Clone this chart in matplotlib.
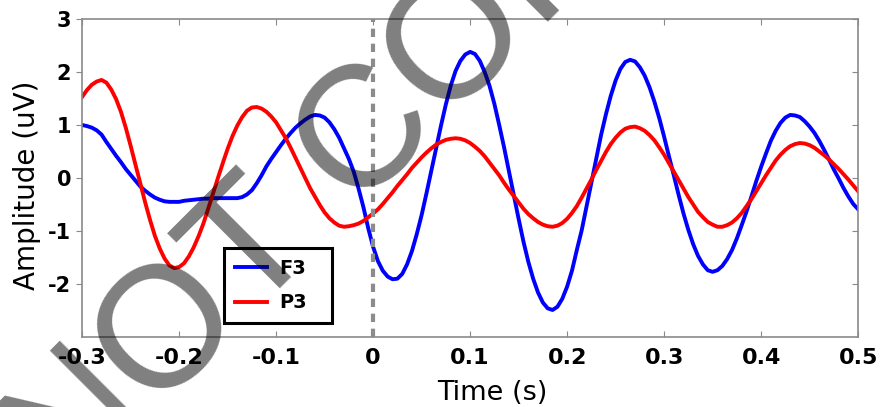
import matplotlib
matplotlib.use("Agg")
import matplotlib.pyplot as plt
from matplotlib.lines import TICKLEFT

# time axis (s), 5 ms steps
time = [-0.300, -0.295, -0.290, -0.285, -0.280, -0.275, -0.270, -0.265, -0.260, -0.255,
        -0.250, -0.245, -0.240, -0.235, -0.230, -0.225, -0.220, -0.215, -0.210, -0.205,
        -0.200, -0.195, -0.190, -0.185, -0.180, -0.175, -0.170, -0.165, -0.160, -0.155,
        -0.150, -0.145, -0.140, -0.135, -0.130, -0.125, -0.120, -0.115, -0.110, -0.105,
        -0.100, -0.095, -0.090, -0.085, -0.080, -0.075, -0.070, -0.065, -0.060, -0.055,
        -0.050, -0.045, -0.040, -0.035, -0.030, -0.025, -0.020, -0.015, -0.010, -0.005,
        0.000, 0.005, 0.010, 0.015, 0.020, 0.025, 0.030, 0.035, 0.040, 0.045,
        0.050, 0.055, 0.060, 0.065, 0.070, 0.075, 0.080, 0.085, 0.090, 0.095,
        0.100, 0.105, 0.110, 0.115, 0.120, 0.125, 0.130, 0.135, 0.140, 0.145,
        0.150, 0.155, 0.160, 0.165, 0.170, 0.175, 0.180, 0.185, 0.190, 0.195,
        0.200, 0.205, 0.210, 0.215, 0.220, 0.225, 0.230, 0.235, 0.240, 0.245,
        0.250, 0.255, 0.260, 0.265, 0.270, 0.275, 0.280, 0.285, 0.290, 0.295,
        0.300, 0.305, 0.310, 0.315, 0.320, 0.325, 0.330, 0.335, 0.340, 0.345,
        0.350, 0.355, 0.360, 0.365, 0.370, 0.375, 0.380, 0.385, 0.390, 0.395,
        0.400, 0.405, 0.410, 0.415, 0.420, 0.425, 0.430, 0.435, 0.440, 0.445,
        0.450, 0.455, 0.460, 0.465, 0.470, 0.475, 0.480, 0.485, 0.490, 0.495,
        0.500]

# F3 amplitude (uV)
f3 = [1.00, 0.98, 0.95, 0.90, 0.82, 0.68, 0.55, 0.42, 0.30, 0.17,
      0.06, -0.05, -0.16, -0.24, -0.31, -0.37, -0.41, -0.44, -0.45, -0.45,
      -0.45, -0.43, -0.42, -0.41, -0.40, -0.39, -0.39, -0.38, -0.38, -0.38,
      -0.38, -0.38, -0.38, -0.36, -0.31, -0.23, -0.10, 0.05, 0.22, 0.36,
      0.49, 0.62, 0.74, 0.85, 0.95, 1.03, 1.10, 1.16, 1.19, 1.18,
      1.14, 1.05, 0.92, 0.76, 0.56, 0.36, 0.12, -0.20, -0.55, -0.95,
      -1.30, -1.57, -1.75, -1.86, -1.91, -1.90, -1.81, -1.63, -1.38, -1.06,
      -0.70, -0.29, 0.14, 0.57, 0.99, 1.39, 1.74, 2.02, 2.21, 2.33,
      2.38, 2.34, 2.21, 2.00, 1.74, 1.40, 1.00, 0.58, 0.13, -0.33,
      -0.77, -1.20, -1.58, -1.90, -2.16, -2.35, -2.46, -2.49, -2.43, -2.28,
      -2.05, -1.75, -1.36, -0.99, -0.54, -0.09, 0.37, 0.81, 1.20, 1.55,
      1.84, 2.06, 2.19, 2.23, 2.20, 2.09, 1.93, 1.71, 1.44, 1.13,
      0.78, 0.41, 0.05, -0.32, -0.67, -0.98, -1.25, -1.47, -1.63, -1.74,
      -1.77, -1.74, -1.66, -1.53, -1.36, -1.14, -0.89, -0.63, -0.35, -0.06,
      0.21, 0.46, 0.70, 0.89, 1.04, 1.14, 1.19, 1.18, 1.15, 1.07,
      0.97, 0.85, 0.70, 0.53, 0.35, 0.16, -0.01, -0.19, -0.35, -0.49,
      -0.59]

# P3 amplitude (uV)
p3 = [1.53, 1.66, 1.76, 1.82, 1.85, 1.80, 1.67, 1.49, 1.25, 0.95,
      0.61, 0.25, -0.10, -0.46, -0.79, -1.09, -1.33, -1.52, -1.65, -1.70,
      -1.68, -1.61, -1.48, -1.31, -1.10, -0.86, -0.58, -0.29, 0.00, 0.28,
      0.55, 0.79, 0.99, 1.15, 1.27, 1.33, 1.34, 1.31, 1.25, 1.16,
      1.05, 0.90, 0.75, 0.57, 0.38, 0.19, 0.00, -0.19, -0.35, -0.51,
      -0.65, -0.76, -0.84, -0.90, -0.92, -0.91, -0.89, -0.86, -0.81, -0.74,
      -0.67, -0.59, -0.49, -0.38, -0.27, -0.15, -0.04, 0.07, 0.19, 0.29,
      0.39, 0.48, 0.56, 0.63, 0.68, 0.72, 0.74, 0.75, 0.74, 0.71,
      0.66, 0.59, 0.51, 0.41, 0.29, 0.17, 0.05, -0.09, -0.22, -0.34,
      -0.46, -0.58, -0.68, -0.76, -0.83, -0.88, -0.91, -0.92, -0.90, -0.85,
      -0.77, -0.66, -0.53, -0.37, -0.20, -0.03, 0.15, 0.32, 0.49, 0.64,
      0.76, 0.86, 0.93, 0.96, 0.97, 0.94, 0.89, 0.81, 0.71, 0.58,
      0.44, 0.28, 0.12, -0.04, -0.20, -0.36, -0.50, -0.64, -0.74, -0.83,
      -0.88, -0.92, -0.92, -0.89, -0.84, -0.76, -0.66, -0.53, -0.40, -0.25,
      -0.10, 0.05, 0.19, 0.33, 0.44, 0.53, 0.60, 0.64, 0.66, 0.65,
      0.62, 0.57, 0.50, 0.43, 0.35, 0.26, 0.17, 0.07, -0.03, -0.14,
      -0.25]

xticks = [-0.3, -0.2, -0.1, 0, 0.1, 0.2, 0.3, 0.4, 0.5]
xtick_labels = ['-0.3', '-0.2', '-0.1', '0', '0.1', '0.2', '0.3', '0.4', '0.5']
yticks = [-2, -1, 0, 1, 2, 3]

fig = plt.figure(figsize=(8.83, 4.07), dpi=100)
ax = fig.add_axes([0.093, 0.172, 0.8788, 0.7813])

ax.plot(time, f3, color='#0000ff', lw=2.8, label='F3')
ax.plot(time, p3, color='#ff0000', lw=2.8, label='P3')
ax.axvline(0, color='#8c8c8c', lw=3, linestyle=(0, (2.0, 1.6)), zorder=3)

ax.set_xlim(-0.3, 0.5)
ax.set_ylim(-3, 3)
ax.set_xticks(xticks)
ax.set_xticklabels(xtick_labels, fontweight='bold', fontsize=16)
ax.set_yticks(yticks)
ax.set_yticklabels([str(v) for v in yticks], fontweight='bold', fontsize=15)

for s in ax.spines.values():
    s.set_color('#8a8a8a')
    s.set_linewidth(1.2)
ax.tick_params(axis='x', direction='in', top=True, length=4, color='#8a8a8a', pad=8)
ax.tick_params(axis='y', direction='out', left=True, right=True, length=4,
               color='#8a8a8a', pad=4)
# right-hand ticks point into the plot
for t in ax.yaxis.get_major_ticks():
    t.tick2line.set_marker(TICKLEFT)

ax.set_xlabel('Time (s)', fontsize=19.5)
ax.xaxis.set_label_coords(0.528, -0.135)
ax.set_ylabel('Amplitude (uV)', fontsize=20)
ax.yaxis.set_label_coords(-0.053, 0.478)

leg = ax.legend(loc='lower left', bbox_to_anchor=(0.183, 0.044, 0.139, 0.239),
                mode='expand', borderaxespad=0, fancybox=False,
                edgecolor='black', framealpha=1, prop={'weight': 'bold', 'size': 14},
                handlelength=1.65, handletextpad=0.65, borderpad=0.55,
                labelspacing=0.8)
leg.get_frame().set_linewidth(2.2)

# watermark across the figure
fig.text(0.0749, -0.236, 'NOT COPY', family='Liberation Sans', rotation=45,
         rotation_mode='anchor', ha='left', va='baseline', fontsize=124,
         color='black', alpha=0.5, zorder=10)

fig.savefig('out.png', dpi=100)
